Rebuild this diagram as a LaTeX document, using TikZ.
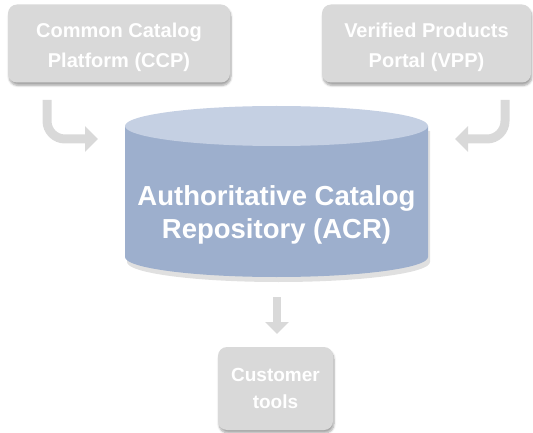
\documentclass[tikz,border=0pt]{standalone}
\usepackage{fontspec}
\setmainfont{Liberation Sans}
\usetikzlibrary{arrows.meta,shadows.blur}
\definecolor{boxgray}{HTML}{D9D9D9}
\definecolor{arrowgray}{HTML}{D9D9D9}
\definecolor{cyltop}{HTML}{C5D0E3}
\definecolor{cylbody}{HTML}{9DAFCD}
\tikzset{
  srcbox/.style={draw=none, fill=boxgray, rounded corners=9pt,
    blur shadow={shadow xshift=1pt, shadow yshift=-3pt, shadow blur steps=6, shadow opacity=35}},
  boxtext/.style={text=white, align=center, font=\bfseries\fontsize{20}{30}\selectfont},
  flow/.style={draw=arrowgray, line width=9pt,
    -{Triangle[width=25pt,length=13pt]}},
  cyltext/.style={text=white, align=center, font=\bfseries\fontsize{27.5}{33}\selectfont}
}
\begin{document}
\begin{tikzpicture}[x=1pt,y=-1pt]
\useasboundingbox (0,0) rectangle (533,433);

% source systems
\node[srcbox, minimum width=222pt, minimum height=78pt] (ccp) at (119,43.5) {};
\node[boxtext] (ccplabel) at (119,47) {Common Catalog\\Platform (CCP)};
\node[srcbox, minimum width=209pt, minimum height=78pt] (vpp) at (426.5,43.5) {};
\node[boxtext] (vpplabel) at (426.5,47) {Verified Products\\Portal (VPP)};

% repository drawn as a cylinder
\fill[black, opacity=0.12] (127,131) -- (127,262) arc[start angle=180,end angle=0,x radius=151.5,y radius=20] -- (430,131) -- cycle;
\fill[cylbody] (125,126) -- (125,257) arc[start angle=180,end angle=0,x radius=151.5,y radius=20] -- (428,126) -- cycle;
\fill[cyltop] (276.5,126) ellipse[x radius=151.5,y radius=20];
\node[cyltext] (acr) at (276.5,215) {Authoritative Catalog\\Repository (ACR)};

% consumer
\node[srcbox, minimum width=115pt, minimum height=83pt] (tools) at (275.5,388.5) {};
\node[boxtext, font=\bfseries\fontsize{19}{27}\selectfont] (toolslabel) at (275.5,388) {Customer\\tools};

% flows
\coordinate (ccpout) at (47,100);
\coordinate (acrinl) at (98,139);
\coordinate (vppout) at (505,100);
\coordinate (acrinr) at (455,139);
\coordinate (acrout) at (277,297);
\coordinate (toolsin) at (277,334);
\draw[flow, rounded corners=18pt] (ccpout) |- (acrinl);
\draw[flow, rounded corners=18pt] (vppout) |- (acrinr);
\draw[flow, line width=8pt, -{Triangle[width=23pt,length=12pt]}] (acrout) -- (toolsin);
\end{tikzpicture}
\end{document}
